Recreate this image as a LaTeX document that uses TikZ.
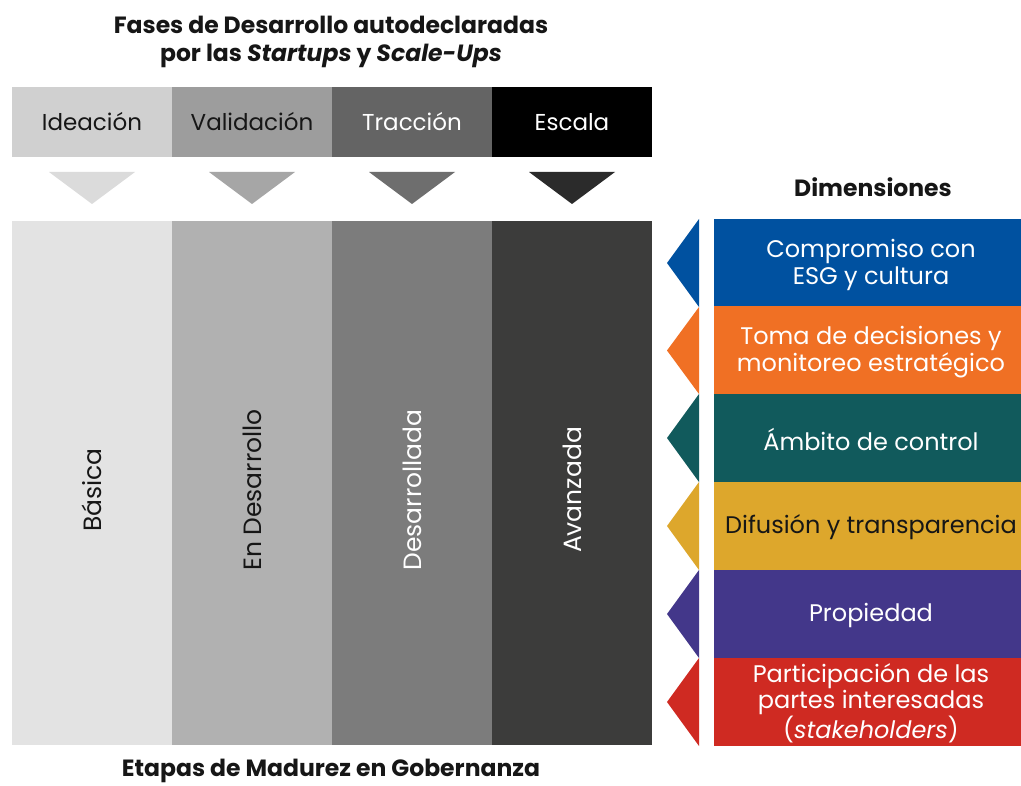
\documentclass[tikz,border=0pt]{standalone}
\usepackage{fontspec}
\setmainfont{Poppins}
\definecolor{hA}{HTML}{D0D0D0}
\definecolor{hB}{HTML}{9D9D9D}
\definecolor{hC}{HTML}{646464}
\definecolor{hD}{HTML}{000000}
\definecolor{tA}{HTML}{DBDBDB}
\definecolor{tB}{HTML}{A6A6A6}
\definecolor{tC}{HTML}{6E6E6E}
\definecolor{tD}{HTML}{2B2B2B}
\definecolor{cA}{HTML}{E3E3E3}
\definecolor{cB}{HTML}{B1B1B1}
\definecolor{cC}{HTML}{7C7C7C}
\definecolor{cD}{HTML}{3C3C3B}
\definecolor{dBlue}{HTML}{0051A0}
\definecolor{dOrange}{HTML}{F07024}
\definecolor{dTeal}{HTML}{115A5C}
\definecolor{dYellow}{HTML}{DDA72C}
\definecolor{dPurple}{HTML}{43378A}
\definecolor{dRed}{HTML}{CF2A22}
\definecolor{ink}{HTML}{161616}
\tikzset{
  titletext/.style={font=\bfseries\fontsize{23.5}{28}\selectfont, align=center, text=ink, inner sep=0pt},
  headbox/.style={minimum width=160pt, minimum height=70pt, inner sep=0pt, font=\fontsize{23}{26}\selectfont},
  colbox/.style={minimum width=160pt, minimum height=524pt, inner sep=0pt},
  coltext/.style={rotate=90, font=\fontsize{25}{28}\selectfont, inner sep=0pt},
  dimbox/.style={minimum width=307pt, minimum height=88pt, inner sep=0pt, align=center, font=\fontsize{24}{26.5}\selectfont},
}
\begin{document}
\begin{tikzpicture}[x=1pt,y=-1pt]
\useasboundingbox (0,0) rectangle (1021,786);
\fill[white] (0,0) rectangle (1021,786);

% Title
\node[titletext] (title) at (331,42) {Fases de Desarrollo autodeclaradas\\por las \textit{Startups} y \textit{Scale-Ups}};

% Header boxes
\node[headbox, fill=hA, text=ink] (h1) at (92,122) {Ideación};
\node[headbox, fill=hB, text=ink] (h2) at (252,122) {Validación};
\node[headbox, fill=hC, text=white] (h3) at (412,122) {Tracción};
\node[headbox, fill=hD, text=white] (h4) at (572,122) {Escala};

% Down triangles
\fill[tA] (49,172) -- (135,172) -- (92,204) -- cycle;
\fill[tB] (209,172) -- (295,172) -- (252,204) -- cycle;
\fill[tC] (369,172) -- (455,172) -- (412,204) -- cycle;
\fill[tD] (529,172) -- (615,172) -- (572,204) -- cycle;

% Columns
\node[colbox, fill=cA] (c1) at (92,483) {};
\node[colbox, fill=cB] (c2) at (252,483) {};
\node[colbox, fill=cC] (c3) at (412,483) {};
\node[colbox, fill=cD] (c4) at (572,483) {};
\node[coltext, text=ink] (t1) at (92,490) {Básica};
\node[coltext, text=ink] (t2) at (252,490) {En Desarrollo};
\node[coltext, text=white] (t3) at (412,490) {Desarrollada};
\node[coltext, text=white] (t4) at (572,490) {Avanzada};

% Bottom title
\node[titletext] (bottom) at (331,771) {Etapas de Madurez en Gobernanza};

% Dimensions
\node[titletext] (dimtitle) at (873,187) {Dimensiones};

\node[dimbox, fill=dBlue, text=white] (d1) at (867.5,263) {};
\node[dimbox, fill=dOrange, text=white] (d2) at (867.5,350.5) {};
\node[dimbox, fill=dTeal, text=white] (d3) at (867.5,438) {};
\node[dimbox, fill=dYellow, text=ink] (d4) at (867.5,526) {};
\node[dimbox, fill=dPurple, text=white] (d5) at (867.5,614) {};
\node[dimbox, fill=dRed, text=white] (d6) at (867.5,702) {};
\node[dimbox, minimum height=0pt, text=white] (l1) at (871,265) {Compromiso con\\ESG y cultura};
\node[dimbox, minimum height=0pt, text=white] (l2) at (871,352) {Toma de decisiones y\\monitoreo estratégico};
\node[dimbox, minimum height=0pt, text=white] (l3) at (871,439) {Ámbito de control};
\node[dimbox, minimum height=0pt, text=ink] (l4) at (871,527) {Difusión y transparencia};
\node[dimbox, minimum height=0pt, text=white] (l5) at (871,615) {Propiedad};
\node[dimbox, minimum height=0pt, text=white] (l6) at (871,703) {Participación de las\\partes interesadas\\(\textit{stakeholders})};

% Left-pointing triangles
\fill[dBlue] (699,219) -- (667,263) -- (699,307) -- cycle;
\fill[dOrange] (699,307) -- (667,350.5) -- (699,394) -- cycle;
\fill[dTeal] (699,394) -- (667,438) -- (699,482) -- cycle;
\fill[dYellow] (699,482) -- (667,526) -- (699,570) -- cycle;
\fill[dPurple] (699,570) -- (667,614) -- (699,658) -- cycle;
\fill[dRed] (699,658) -- (667,702) -- (699,746) -- cycle;
\end{tikzpicture}
\end{document}
